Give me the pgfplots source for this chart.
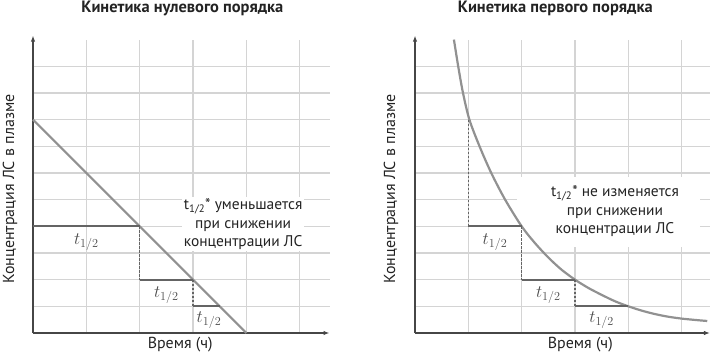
\RequirePackage{fix-cm}
\documentclass[border=0pt]{standalone}
\usepackage{pgfplots}
\pgfplotsset{compat=1.18}
\usepackage{fontspec}
\setmainfont{PT Sans}
\usetikzlibrary{arrows.meta}
\definecolor{gridc}{RGB}{212,212,212}
\definecolor{curvec}{RGB}{145,145,145}
\definecolor{hlc}{RGB}{100,100,100}
\definecolor{axc}{RGB}{70,70,70}
\definecolor{txt}{RGB}{35,35,35}
\definecolor{tlc}{RGB}{75,75,75}
\pgfplotsset{kin/.style={
  x=53.33bp, y=26.67bp, ymin=0, ymax=11,
  axis lines=left,
  axis line style={axc, line width=1.7bp, -{Latex[length=6bp,width=4.5bp]}},
  y axis line style={shorten >=-4bp},
  xtick={1,...,5}, ytick={1,...,10},
  xticklabels={}, yticklabels={},
  major tick length=0pt,
  grid=major, grid style={gridc, line width=1.3bp},
  clip=false}}
\tikzset{
  hl/.style={hlc, line width=1.8bp},
  dl/.style={hlc, line width=1.2bp, dash pattern=on 2.5bp off 1.5bp},
  tl/.style={text=tlc, font=\fontsize{17.5}{20}\selectfont},
  lab/.style={text=txt, font=\fontsize{16}{18}\selectfont},
}
\begin{document}
\begin{tikzpicture}
\path[use as bounding box] (-33bp,-24bp) rectangle (681bp,333bp);
% ---------------- left: zero order ----------------
\begin{axis}[kin, xmin=0, xmax=5.56]
\node[fill=white, inner sep=1.5bp, align=center, text=txt,
  font=\fontsize{15.5}{18.5}\selectfont] at (axis cs:3.94,4.08)
  {t\textsubscript{1/2}* уменьшается\\при снижении\\концентрации ЛС};
\addplot[curvec, line width=2.2bp] coordinates {(0,8) (4,0)};
\addplot[hl] coordinates {(0,4) (2,4)};
\addplot[dl] coordinates {(2,4) (2,2)};
\addplot[hl] coordinates {(2,2) (3,2)};
\addplot[dl] coordinates {(3,2) (3,1)};
\addplot[hl] coordinates {(3,1) (3.5,1)};
\node[tl] at (axis cs:1.0,3.42) {$t_{1/2}$};
\node[tl] at (axis cs:2.5,1.42) {$t_{1/2}$};
\node[tl] at (axis cs:3.3,0.49) {$t_{1/2}$};
\node[text=txt, font=\bfseries\fontsize{16.5}{19}\selectfont] at (axis cs:2.8,12.17) {Кинетика нулевого порядка};
\node[lab, rotate=90] at (axis cs:-0.43,5.4) {Концентрация ЛС в плазме};
\node[lab] at (axis cs:2.76,-0.45) {Время (ч)};
\end{axis}
% ---------------- right: first order ----------------
\begin{axis}[kin, xmin=0, xmax=5.53, at={(382bp,0)}]
\node[fill=white, inner sep=0pt, minimum width=183bp, minimum height=70bp] at (axis cs:3.63,4.53) {};
\node[align=center, text=txt, font=\fontsize{15.5}{18.5}\selectfont] at (axis cs:3.75,4.57)
  {t\textsubscript{1/2}* не изменяется\\при снижении\\концентрации ЛС};
\addplot[curvec, line width=2.2bp, smooth, tension=0.5] coordinates {
 (0.73,11) (0.81,10) (0.90,9) (1.02,8) (1.21,7) (1.43,6) (1.69,5) (2,4)
 (2.25,3.37) (2.5,2.83) (2.75,2.37) (3,2) (3.25,1.69) (3.5,1.43) (3.75,1.19)
 (4,1) (4.25,0.84) (4.5,0.71) (4.75,0.61) (5,0.54) (5.25,0.49) (5.48,0.45)};
\addplot[dl] coordinates {(1,8) (1,4)};
\addplot[hl] coordinates {(1,4) (2,4)};
\addplot[dl] coordinates {(2,4) (2,2)};
\addplot[hl] coordinates {(2,2) (3,2)};
\addplot[dl] coordinates {(3,2) (3,1)};
\addplot[hl] coordinates {(3,1) (4,1)};
\node[tl] at (axis cs:1.5,3.42) {$t_{1/2}$};
\node[tl] at (axis cs:2.5,1.42) {$t_{1/2}$};
\node[tl] at (axis cs:3.5,0.49) {$t_{1/2}$};
\node[text=txt, font=\bfseries\fontsize{16.5}{19}\selectfont] at (axis cs:2.63,12.17) {Кинетика первого порядка};
\node[lab, rotate=90] at (axis cs:-0.45,5.4) {Концентрация ЛС в плазме};
\node[lab] at (axis cs:3.1,-0.45) {Время (ч)};
\end{axis}
\end{tikzpicture}
\end{document}
